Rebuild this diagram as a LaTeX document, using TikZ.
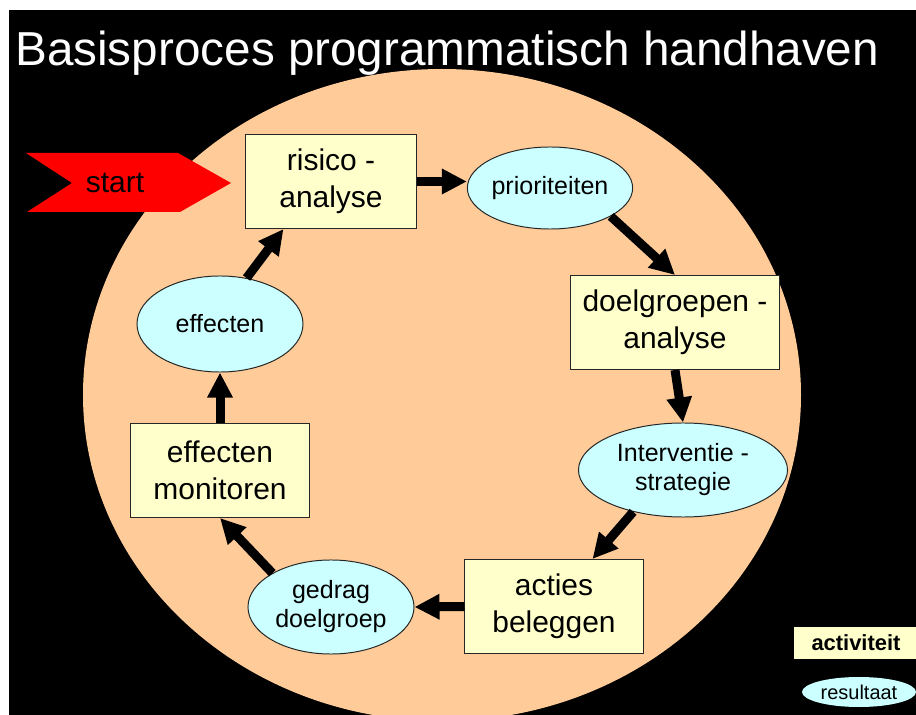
\documentclass[tikz,border=0pt]{standalone}
\usepackage{fontspec}
\setmainfont{Liberation Sans}
\usetikzlibrary{shapes.geometric, arrows.meta}

\definecolor{peach}{HTML}{FFCC99}
\definecolor{actfill}{HTML}{FFFFCC}
\definecolor{resfill}{HTML}{CCFFFF}

\begin{document}
\begin{tikzpicture}[
		x=0.025cm, y=-0.025cm,
		every node/.style={inner sep=0pt, align=center},
		activity/.style={rectangle, draw=black!85, line width=0.7pt, fill=actfill, minimum height=2.35cm, font=\fontsize{21.3}{26.3}\selectfont},
		result/.style={ellipse, draw=black!85, line width=0.7pt, fill=resfill, font=\fontsize{17.8}{20.6}\selectfont},
		flow/.style={line width=0.225cm, -{Triangle[length=0.625cm, width=0.6cm]}}
	]
  \useasboundingbox (0, 0) rectangle (916, 715);
  \fill[white] (0, 0) rectangle (916, 715);
  \fill[black] (9, 10) rectangle (916, 715);
  \fill[peach] (442, 395) ellipse [x radius=359, y radius=326];
  \node (title) [anchor=base west, text=white, font=\fontsize{33.9}{40}\selectfont] at (15, 66) {Basisproces programmatisch handhaven};
  \fill[red] (26, 153) -- (178, 153) -- (231, 183) -- (180, 212) -- (27, 212) -- (72, 183) -- cycle;
  \node (start) [font=\fontsize{21.3}{26}\selectfont] at (115, 183) {start};
  \node (risico) [activity, minimum width=4.25cm] at (331, 181.5) {risico -\\analyse};
  \node (prio) [result, minimum width=4.1cm, minimum height=2.05cm] at (550, 188) {prioriteiten};
  \node (doel) [activity, minimum width=5.2cm] at (675, 322.5) {doelgroepen -\\analyse};
  \node (inter) [result, minimum width=5.225cm, minimum height=2.35cm] at (683, 470) {Interventie -\\strategie};
  \node (acties) [activity, minimum width=4.45cm] at (554, 606.5) {acties\\beleggen};
  \node (gedrag) [result, minimum width=4.15cm, minimum height=2.35cm] at (331, 607) {gedrag\\doelgroep};
  \node (monitor) [activity, minimum width=4.45cm] at (220, 470.5) {effecten\\monitoren};
  \node (effect) [result, minimum width=4.15cm, minimum height=2.4cm] at (220, 324) {effecten};
  \node (act) [fill=actfill, minimum width=3.1cm, minimum height=0.8cm, font=\bfseries\fontsize{15.6}{18}\selectfont] at (856, 643) {activiteit};
  \node (res) [ellipse, fill=resfill, minimum width=2.85cm, minimum height=0.75cm, font=\fontsize{14.2}{16}\selectfont] at (859, 692) {resultaat};
  \draw[flow] (risico.east) -- (risico.east -| prio.west);
  \draw[flow] (prio.-25) -- (doel.north);
  \draw[flow] (doel.south) -- (inter.north);
  \draw[flow] (inter.220) -- (acties.51);
  \draw[flow] (acties.west) -- (gedrag.east);
  \draw[flow] (gedrag.150) -- (monitor.south);
  \draw[flow] (monitor.north) -- (effect.south);
  \draw[flow] (effect.60) -- (risico.225);
\end{tikzpicture}
\end{document}
